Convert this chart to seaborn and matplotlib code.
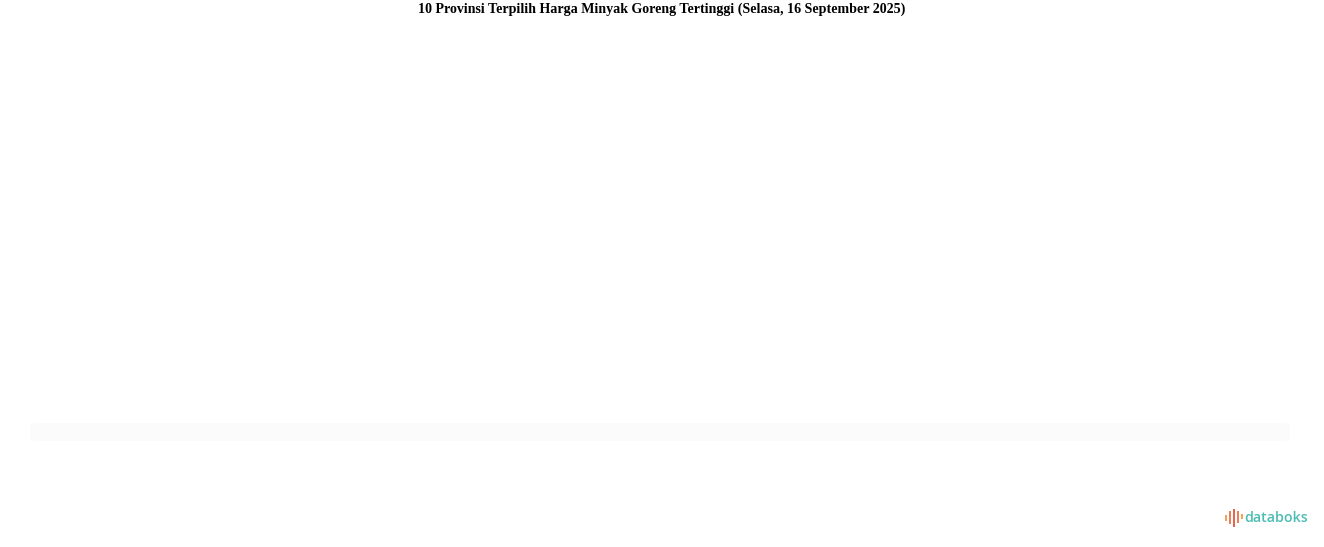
import matplotlib
matplotlib.use("Agg")
import matplotlib.pyplot as plt
from matplotlib.patches import FancyBboxPatch, Rectangle
import seaborn as sns
import pandas as pd

# the source chart shows no bars at all, only the title and an empty plot strip
provinces = []
prices = []
title = "10 Provinsi Terpilih Harga Minyak Goreng Tertinggi (Selasa, 16 September 2025)"

sns.set_theme(style="white")
plt.rcParams['font.family'] = ['Liberation Serif', 'DejaVu Serif']

W, H = 1324, 547
fig = plt.figure(figsize=(W / 100, H / 100), dpi=100)
fig.patch.set_facecolor("white")

ax = fig.add_axes([28 / W, 1 - 442 / H, (1292 - 28) / W, 400 / H])
df = pd.DataFrame({"provinsi": provinces, "harga": prices})
if len(df):
    sns.barplot(data=df, x="harga", y="provinsi", ax=ax, color="#4dbdb5")
ax.set_axis_off()

# faint strip under the (empty) plot area
strip = FancyBboxPatch((30 / W, 1 - 441 / H), (1290 - 30) / W, 18 / H,
                       boxstyle="round,pad=0,rounding_size=0.008",
                       transform=fig.transFigure, facecolor="#fbfbfb",
                       edgecolor="none")
fig.patches.append(strip)

fig.text(662 / W, 1 - 9.5 / H, title, ha="center", va="center",
         fontsize=10.1, fontweight="bold", color="black")

# databoks logo
bars = [(1225, 515, 521, "#f4a259"), (1229, 511, 524, "#ef7d57"),
        (1233, 509, 527, "#e8644f"), (1237, 511, 523, "#ef7d57"),
        (1241, 514, 519, "#f4a259")]
for x0, y0, y1, c in bars:
    fig.patches.append(Rectangle((x0 / W, 1 - y1 / H), 2.2 / W, (y1 - y0) / H,
                                 transform=fig.transFigure, facecolor=c,
                                 edgecolor="none"))
fig.text(1244 / W, 1 - 518.5 / H, "databoks", ha="left", va="center",
         fontsize=10.3, fontweight="semibold", color="#4dbdb5",
         family=["Open Sans", "DejaVu Sans"])

fig.savefig("out.png", dpi=100, facecolor="white")
